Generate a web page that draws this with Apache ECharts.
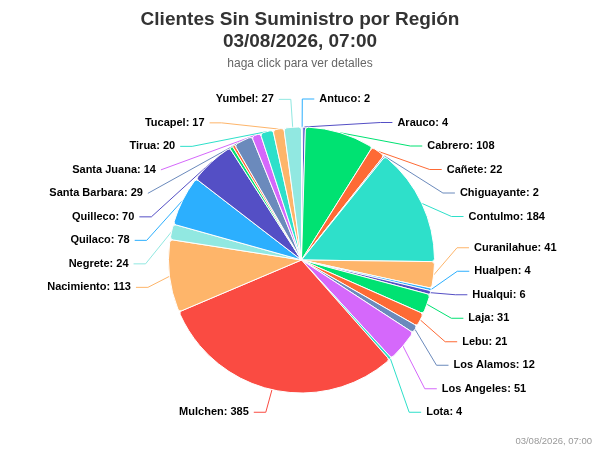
<!DOCTYPE html>
<html>
<head>
<meta charset="utf-8">
<script src="https://cdn.jsdelivr.net/npm/echarts@6/dist/echarts.min.js"></script>
<style>
html,body{margin:0;padding:0;background:#fff;}
#chart{width:600px;height:450px;}
</style>
</head>
<body>
<div id="chart"></div>
<script>
var titleLines = ['Clientes Sin Suministro por Región', '03/08/2026, 07:00'];
var subtitleText = 'haga click para ver detalles';
var creditText = '03/08/2026, 07:00';

var comunas = ['Antuco','Arauco','Cabrero','Cañete','Chiguayante','Contulmo','Curanilahue','Hualpen','Hualqui','Laja','Lebu','Los Alamos','Los Angeles','Lota','Mulchen','Nacimiento','Negrete','Quilaco','Quilleco','San Pedro de la Paz','San Rosendo','Santa Barbara','Santa Juana','Tirua','Tucapel','Yumbel'];
var clientes = [2,4,108,22,2,184,41,4,6,31,21,12,51,4,385,113,24,78,70,5,4,29,14,20,17,27];
var sinEtiqueta = ['San Pedro de la Paz','San Rosendo'];

var C = {blue:'#2caffe', purple:'#544fc5', green:'#00e272', orange:'#fe6a35', slate:'#6b8abc', pink:'#d568fb', teal:'#2ee0ca', red:'#fa4b42', lorange:'#feb56a', lteal:'#91e8e1'};
var colores = [C.blue,C.purple,C.green,C.orange,C.slate,C.teal,C.lorange,C.blue,C.purple,C.green,C.orange,C.slate,C.pink,C.teal,C.red,C.lorange,C.lteal,C.blue,C.purple,C.green,C.orange,C.slate,C.pink,C.teal,C.lorange,C.lteal];

var data = comunas.map(function(n, i){
  var d = {name:n, value:clientes[i], itemStyle:{color:colores[i]}};
  if (sinEtiqueta.indexOf(n) >= 0) { d.label = {show:false}; d.labelLine = {show:false}; }
  return d;
});

var chart = echarts.init(document.getElementById('chart'), null, {renderer:'canvas'});
chart.setOption({
  animation: false,
  backgroundColor: '#ffffff',
  title: {
    text: titleLines.join('\n'),
    subtext: subtitleText,
    left: 'center',
    top: 4,
    itemGap: 5,
    textStyle: {fontFamily:'Liberation Sans, Arial, sans-serif', fontSize:19, fontWeight:'bold', color:'#333333', lineHeight:22},
    subtextStyle: {fontFamily:'Liberation Sans, Arial, sans-serif', fontSize:12, color:'#666666'}
  },
  graphic: [{
    type:'text', right:8, bottom:4,
    style:{text:creditText, fill:'#999999', font:'9.5px "Liberation Sans", Arial, sans-serif'}
  }],
  series: [{
    type: 'pie',
    left: 0,
    top: 0,
    width: 600,
    height: 424,
    center: [301.5, 260],
    radius: 133,
    startAngle: 90,
    clockwise: true,
    avoidLabelOverlap: true,
    itemStyle: {borderColor:'#ffffff', borderWidth:1, borderRadius:3},
    label: {
      show: true,
      formatter: '{b}: {c}',
      fontFamily: 'Liberation Sans, Arial, sans-serif',
      fontSize: 11,
      fontWeight: 'bold',
      color: '#000000',
      lineHeight: 21.5,
      textBorderColor: '#ffffff',
      textBorderWidth: 1
    },
    labelLine: {show:true, length:28, length2:12, lineStyle:{width:1}},
    emphasis: {disabled:true},
    data: data
  }]
});
</script>
</body>
</html>
